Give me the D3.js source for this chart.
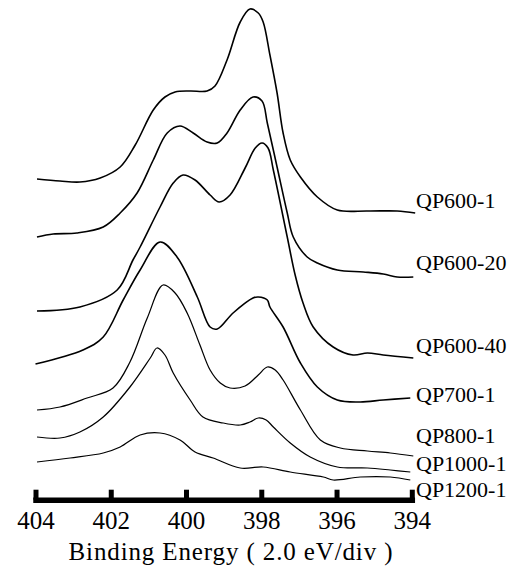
<!DOCTYPE html>
<html>
<head>
<meta charset="utf-8">
<script src="https://cdn.jsdelivr.net/npm/d3@7"></script>
<style>
  html, body { margin: 0; padding: 0; background: #fff; }
  svg { display: block; }
</style>
</head>
<body>
<svg id="chart" width="516" height="577"></svg>
<script>
// ---- Data (binding energy in eV, intensity in arbitrary offset units) ----
const tickValues = [404, 402, 400, 398, 396, 394];
const xTitle = "Binding Energy ( 2.0 eV/div )";
const seriesNames = ["QP600-1", "QP600-20", "QP600-40", "QP700-1", "QP800-1", "QP1000-1", "QP1200-1"];

const qp600_1 = [[403.96,64.2],[403.35,63.8],[402.82,63.6],[402.28,64.4],[401.75,66.6],[401.35,71.0],[400.87,78.0],[400.56,80.6],[400.29,81.6],[399.89,81.8],[399.44,81.8],[399.23,82.8],[398.91,88.0],[398.56,95.6],[398.30,98.2],[398.08,97.4],[397.95,95.6],[397.77,89.0],[397.58,81.4],[397.42,73.4],[397.23,68.0],[396.96,64.6],[396.51,60.6],[395.98,58.0],[395.18,57.8],[394.39,57.8],[393.91,57.4]];
const qp600_20 = [[403.96,52.6],[403.53,53.2],[402.90,53.4],[402.20,54.6],[401.75,57.4],[401.30,61.4],[400.87,68.0],[400.50,73.4],[400.16,74.8],[399.81,73.4],[399.44,71.6],[399.17,71.4],[398.91,73.4],[398.56,78.0],[398.22,80.6],[397.98,79.8],[397.84,75.4],[397.58,66.6],[397.31,57.4],[397.15,52.6],[396.78,48.6],[396.51,47.4],[395.98,46.0],[395.29,45.6],[394.76,45.2],[394.39,44.6],[393.96,44.6]];
const qp600_40 = [[403.96,37.8],[402.82,38.6],[401.83,42.0],[401.41,48.0],[401.22,50.6],[400.69,58.6],[400.34,63.4],[400.08,65.0],[399.76,64.0],[399.36,61.0],[399.12,59.6],[398.83,61.0],[398.43,66.4],[398.16,70.4],[397.98,71.4],[397.82,70.4],[397.68,66.0],[397.31,52.6],[397.10,45.0],[396.89,39.4],[396.62,34.6],[396.09,30.6],[395.56,29.0],[395.18,29.4],[394.76,29.0],[393.96,28.4]];
const qp700_1 = [[404.00,27.2],[402.74,30.0],[402.20,32.6],[401.67,40.0],[401.22,46.0],[400.69,51.6],[400.24,48.6],[399.70,40.6],[399.36,34.6],[399.17,34.2],[398.75,37.4],[398.22,40.4],[398.08,40.6],[397.84,40.0],[397.77,38.6],[397.42,34.6],[396.96,27.4],[396.51,22.6],[395.98,20.0],[395.37,19.6],[394.76,20.0],[394.04,20.4]];
const qp800_1 = [[403.96,18.0],[403.35,18.6],[402.63,20.4],[401.94,22.4],[401.49,27.6],[401.03,36.4],[400.61,43.0],[400.29,41.4],[399.97,37.4],[399.63,31.0],[399.36,26.0],[399.09,23.4],[398.83,22.4],[398.43,22.8],[398.08,25.0],[397.84,26.6],[397.63,26.0],[397.42,24.0],[396.96,18.0],[396.43,12.0],[395.90,10.4],[395.18,9.8],[394.57,9.4],[393.96,8.8]];
const qp1000_1 = [[403.96,12.6],[403.35,12.4],[402.82,13.6],[402.20,16.6],[401.49,22.6],[400.95,28.4],[400.77,30.4],[400.56,29.0],[400.34,25.4],[399.89,20.0],[399.55,16.6],[399.01,15.4],[398.56,15.0],[398.30,15.6],[398.08,16.4],[397.87,16.0],[397.68,14.6],[397.23,11.4],[396.70,8.6],[395.98,6.6],[395.18,6.4],[394.57,6.0],[394.04,5.6]];
const qp1200_1 = [[403.96,7.6],[403.08,8.4],[402.20,9.4],[401.75,10.6],[401.22,13.0],[400.69,13.4],[400.16,12.0],[399.76,9.6],[399.28,8.4],[398.56,6.4],[397.95,6.6],[397.23,5.6],[396.35,4.6],[396.09,4.0],[395.37,4.6],[394.57,4.6],[394.04,4.0]];
const seriesData = [qp600_1, qp600_20, qp600_40, qp700_1, qp800_1, qp1000_1, qp1200_1];
// label anchor intensities (where each label sits, in data units)
const labelLevels = [58.4, 46.0, 29.4, 19.6, 11.4, 5.8, 0.6];

// ---- Layout ----
const svg = d3.select("#chart");
const x = d3.scaleLinear().domain([404, 394]).range([35.5, 411.8]);
const y = d3.scaleLinear().domain([0, 100]).range([500, 0]);
const serif = "'Liberation Serif', 'Times New Roman', serif";

const line = d3.line()
  .x(d => x(d[0]))
  .y(d => y(d[1]))
  .curve(d3.curveCatmullRom.alpha(0.5));

svg.append("g").selectAll("path")
  .data(seriesData)
  .join("path")
  .attr("d", line)
  .attr("fill", "none")
  .attr("stroke", "#000")
  .attr("stroke-width", (d, i) => i < 4 ? 1.6 : 1.25)
  .attr("stroke-linejoin", "round");

svg.append("g").selectAll("text")
  .data(seriesNames)
  .join("text")
  .attr("x", 416)
  .attr("y", (d, i) => y(labelLevels[i]))
  .attr("font-family", serif)
  .attr("font-size", 22)
  .attr("fill", "#000")
  .text(d => d);

// ---- Axis ----
const axis = d3.axisBottom(x)
  .tickValues(tickValues)
  .tickFormat(d3.format("d"))
  .tickSizeInner(-10)
  .tickSizeOuter(0)
  .tickPadding(12);

const gx = svg.append("g")
  .attr("transform", "translate(0,499.7)")
  .call(axis);
gx.select(".domain")
  .attr("stroke", "#000")
  .attr("stroke-width", 5.5)
  .attr("stroke-linecap", "square");
gx.selectAll(".tick line")
  .attr("stroke", "#000")
  .attr("stroke-width", 5);
gx.selectAll(".tick text")
  .attr("font-family", serif)
  .attr("font-size", 25)
  .attr("fill", "#000");

svg.append("text")
  .attr("x", 230.5)
  .attr("y", 560)
  .attr("text-anchor", "middle")
  .attr("font-family", serif)
  .attr("font-size", 25)
  .attr("textLength", 324)
  .attr("lengthAdjust", "spacing")
  .attr("fill", "#000")
  .text(xTitle);
</script>
</body>
</html>
